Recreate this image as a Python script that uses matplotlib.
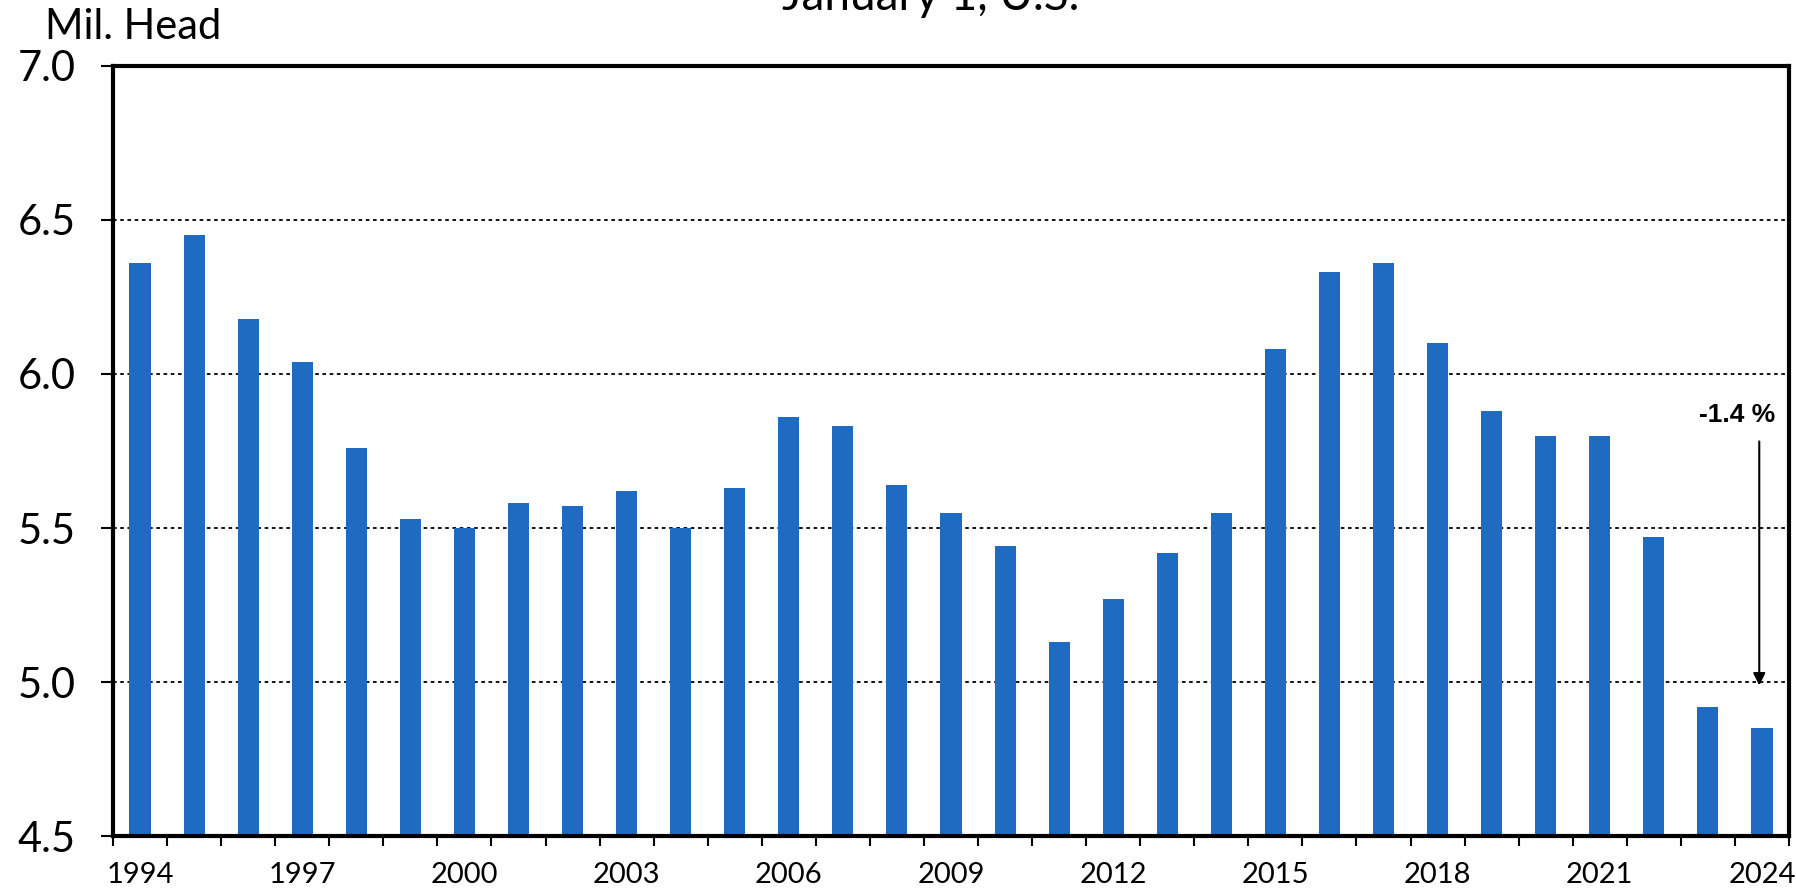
import matplotlib.pyplot as plt
import numpy as np

# January 1 inventory, U.S. (million head)
years = list(range(1994, 2025))
head = [6.36, 6.45, 6.18, 6.04, 5.76, 5.53, 5.50, 5.58, 5.57, 5.62,
        5.50, 5.63, 5.86, 5.83, 5.64, 5.55, 5.44, 5.13, 5.27, 5.42,
        5.55, 6.08, 6.33, 6.36, 6.10, 5.88, 5.80, 5.80, 5.47, 4.92,
        4.85]
label_years = [1994, 1997, 2000, 2003, 2006, 2009, 2012, 2015, 2018, 2021, 2024]
y_ticks = [4.5, 5.0, 5.5, 6.0, 6.5, 7.0]
change_text = "-1.4 %"

plt.rcParams['font.family'] = ['Lato', 'DejaVu Sans']

fig = plt.figure(figsize=(17.96, 8.88), dpi=100)
ax = fig.add_axes([113/1796, 52/888, 1676/1796, 770/888])

x = np.arange(len(years))
ax.bar(x, head, width=0.39, color='#1f6bc2', zorder=2)

ax.set_xlim(-0.5, len(years) - 0.5)
ax.set_ylim(4.5, 7.0)

# dotted gridlines
for v in y_ticks[1:-1]:
    ax.axhline(v, color='black', lw=1.3, ls=(0, (2, 2)), zorder=1)

ax.set_yticks(y_ticks)
ax.set_yticklabels([f"{v:.1f}" for v in y_ticks], fontsize=30)
ax.tick_params(axis='y', direction='out', length=9, width=1.5, pad=18)

ax.set_xticks([years.index(y) for y in label_years])
ax.set_xticklabels([str(y) for y in label_years], fontsize=21)
ax.set_xticks(np.arange(len(years) + 1) - 0.5, minor=True)
ax.tick_params(axis='x', which='major', length=0, pad=19)
ax.tick_params(axis='x', which='minor', direction='out', length=7, width=1.5)

for s in ax.spines.values():
    s.set_linewidth(3)
    s.set_color('black')

# change annotation on the last bar
ax.annotate('', xy=(29.95, 4.98), xytext=(29.95, 5.79),
            arrowprops=dict(arrowstyle='-|>', color='black', lw=1.5,
                            mutation_scale=18))
ax.text(29.54, 5.867, change_text, fontsize=19, fontweight='bold',
        family='Liberation Sans', ha='center', va='center')

fig.text(45/1796, 1 - 27/888, "Mil. Head", fontsize=30, va='center', ha='left')
fig.text(931/1796, 1 - 10/888, "January 1, U.S.", fontsize=33,
         ha='center', va='baseline')

fig.savefig('out.png', dpi=100)
